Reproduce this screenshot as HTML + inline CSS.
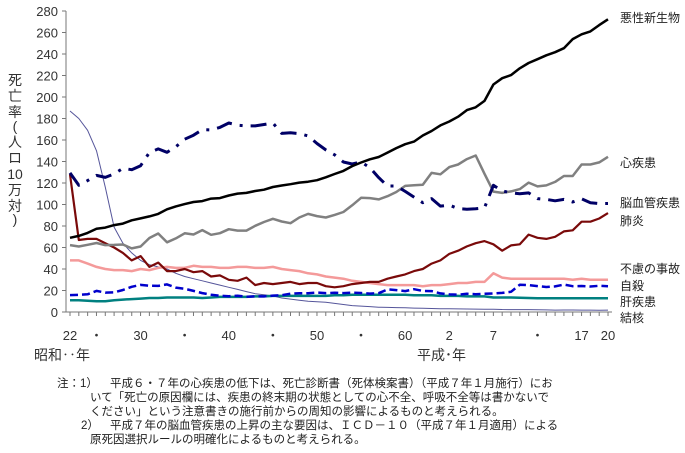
<!DOCTYPE html>
<html><head><meta charset="utf-8">
<style>
body{margin:0;background:#fff;}
svg text{font-family:"Liberation Sans","Noto Sans CJK JP",sans-serif;}
</style></head>
<body>
<svg id="chart" width="685" height="448" viewBox="0 0 685 448" xmlns="http://www.w3.org/2000/svg">
<g id="axes"></g>
<g id="series"></g>
<g id="labels"></g>
<g font-size="14" fill="#333" text-anchor="middle">
<text x="15" y="85">死</text><text x="15" y="101">亡</text><text x="15" y="117">率</text><text x="15" y="131">(</text><text x="15" y="147">人</text><text x="15" y="163">ロ</text><text x="15" y="179">10</text><text x="15" y="195">万</text><text x="15" y="211">対</text><text x="15" y="224">)</text>
</g>
<text x="34" y="360" font-size="14" fill="#333">昭和‥年</text>
<text x="417" y="360" font-size="14" fill="#333">平成･年</text>
<g font-size="11.5" fill="#222">
<text x="57" y="387">注：1）</text>
<text x="110" y="387">平成６・７年の心疾患の低下は、死亡診断書（死体検案書）（平成７年１月施行）にお</text>
<text x="90" y="401">いて「死亡の原因欄には、疾患の終末期の状態としての心不全、呼吸不全等は書かないで</text>
<text x="90" y="415">ください」という注意書きの施行前からの周知の影響によるものと考えられる。</text>
<text x="81" y="429">2）</text>
<text x="110" y="429">平成７年の脳血管疾患の上昇の主な要因は、ＩＣＤ－１０（平成７年１月適用）による</text>
<text x="90" y="443">原死因選択ルールの明確化によるものと考えられる。</text>
</g>
</svg>
<script>
const startYear = 1947;
const cancer = [69.0,70.8,73.6,77.4,78.5,80.8,82.2,85.3,87.1,88.9,91.3,95.5,98.2,100.4,102.3,103.2,105.5,106.0,108.4,110.1,110.8,112.6,113.8,116.3,117.7,118.9,120.4,121.2,122.6,125.3,128.4,131.3,135.7,139.1,142.0,144.2,148.3,152.5,156.1,158.5,164.2,168.4,173.6,177.2,181.7,187.8,190.4,196.4,211.6,217.5,220.4,226.7,231.6,235.2,238.8,241.7,245.4,253.9,258.3,261.0,266.9,272.3];
const heart = [62.2,60.9,62.5,64.2,62.2,62.4,62.8,59.2,60.9,68.8,73.0,64.8,68.5,73.2,72.1,76.2,71.8,73.3,77.0,75.7,75.7,80.2,83.7,86.7,84.2,82.6,87.9,91.3,89.2,87.9,90.3,93.0,99.3,106.2,106.0,104.7,107.7,111.6,117.3,117.9,118.4,129.4,128.1,134.8,137.2,142.2,145.6,128.6,112.0,110.8,112.2,114.3,120.4,116.8,117.8,121.0,126.5,126.5,137.2,137.2,139.2,144.4];
const cerebro = [129.4,117.9,122.2,127.1,125.2,128.5,133.7,132.4,136.1,148.4,151.7,148.6,153.7,160.7,164.5,169.6,169.4,171.7,175.8,173.8,173.1,173.1,174.4,175.8,166.1,166.7,166.0,163.8,156.7,150.8,146.2,139.5,137.7,139.5,134.3,125.0,117.2,117.2,112.2,106.9,101.7,105.5,98.5,99.4,96.2,95.6,96.0,96.9,117.9,112.6,111.0,110.0,110.8,105.5,104.7,103.4,104.7,102.3,105.3,101.7,100.8,100.9];
const pneumonia = [128,67,68,68,64,60,55,48,52,42,46,38,38,40,37,38,33,34,30,29,32,25,27,26,27,28,26,27,27,24,23,24,26,27,28,28,31,33,35,38,40,45,48,54,57,61,64,66,63,57,62,63,72,69,68,70,75,76,84,84,87,92];
const accidents = [48,48,45,42,40,39,39,38,40,39,41,42,41,41,43,42,42,41,41,42,42,41,41,42,40,39,38,36,35,33,32,31,29,28,27,26,25,25,25,25,24,25,25,26,27,27,28,28,36,32,31,31,31,31,31,31,31,30,31,30,30,30];
const suicide = [15.7,16,16.5,19.6,18,18.2,20.5,23.4,25.2,24.5,24.3,25.7,22.7,21.6,19.6,17.6,16.1,15.1,14.7,15.2,14.2,14.5,14.5,15.3,15.6,17.0,17.4,17.5,18.0,17.6,17.9,17.6,18.0,17.7,17.1,17.5,21.0,20.4,19.4,21.2,19.6,19.4,17.3,16.4,16.1,16.9,16.6,16.9,17.2,17.8,18.8,25.4,25.0,24.1,23.3,23.8,25.5,24.0,24.2,23.7,24.4,24.0];
const liver = [11,11,10.5,10,10,11,11.5,12,12.5,13,13,13.5,13.5,13.5,13.5,13,13.5,14,14,14,14,14.5,14.5,15,15,15,15,15,15,15,15.5,15.5,16,16,16,16,16,16,16,15.5,15.5,15.5,15,15,15,14.5,14.5,14.5,13.5,13.5,13.5,13.2,13,12.8,12.8,12.8,12.8,12.8,12.8,12.8,12.8,12.8];
const tb = [187,180,169,150,116,79,64,55,48,44,42,40,36,33,31,29,27,25,23,21,19,17,16,15,13,12,11,10,9.5,9,8,7,6,5.5,5,4.5,4.3,4.1,3.9,3.6,3.4,3.3,3.1,3,2.9,2.8,2.7,2.6,2.6,2.3,2.2,2.2,2.2,2.1,2.0,1.8,1.9,1.9,1.8,1.8,1.7,1.8];
const yTicks = [0,20,40,60,80,100,120,140,160,180,200,220,240,260,280];
const xTickYears = [1947,1950,1955,1960,1965,1970,1975,1980,1985,1990,1995,2000,2005,2008];
const xTickLabels = ["22","・","30","・","40","・","50","・","60","2","7","・","17","20"];
const seriesNames = ["悪性新生物","心疾患","脳血管疾患","肺炎","不慮の事故","自殺","肝疾患","結核"];
const labelYs = [18,163,203,221,269,286,302,318];

const NS="http://www.w3.org/2000/svg";
const x0=70, dx=8.82, y0=312, ky=301/280;
function xs(yr){return x0+(yr-startYear)*dx;}
function ys(v){return y0-v*ky;}
function mk(tag,attrs,parent){const e=document.createElementNS(NS,tag);for(const k in attrs)e.setAttribute(k,attrs[k]);parent.appendChild(e);return e;}

const axes=document.getElementById('axes');
let a=mk('line',{x1:66,y1:ys(0),x2:66,y2:ys(280),stroke:'#777','stroke-width':1},axes);


a=mk('line',{x1:66,y1:ys(0),x2:612,y2:ys(0),stroke:'#777','stroke-width':1},axes);


yTicks.forEach(v=>{
  const t=mk('line',{x1:62,x2:66,y1:ys(v),y2:ys(v),stroke:'#777'},axes);
  
  
  const l=mk('text',{x:58,y:ys(v)+5,'text-anchor':'end','font-size':13,fill:'#333'},axes);
  
  
  l.textContent=v;
});
for(let i=0;i<cancer.length;i++){
  const t=mk('line',{x1:xs(startYear+i),x2:xs(startYear+i),y1:y0,y2:y0+4,stroke:'#777'},axes);
  
  
}
xTickYears.forEach((yr,i)=>{
  const l=mk('text',{x:xs(yr),y:340,'text-anchor':'middle','font-size':13,fill:'#333'},axes);
  
  
  l.textContent=xTickLabels[i];
});

const sg=document.getElementById('series');
function drawLine(data,name,style){
  const pts=data.map((v,i)=>xs(startYear+i).toFixed(1)+','+ys(v).toFixed(1)).join(' ');
  const p=mk('polyline',Object.assign({points:pts,fill:'none','stroke-linejoin':'round'},style),sg);
  
  
}
drawLine(tb,'line-tuberculosis',{stroke:'#55559a','stroke-width':1});
drawLine(liver,'line-liver-disease',{stroke:'#008080','stroke-width':2.5});
drawLine(suicide,'line-suicide',{stroke:'#0000cc','stroke-width':2.5,'stroke-dasharray':'8 4'});
drawLine(accidents,'line-accidents',{stroke:'#f49a9a','stroke-width':2.5});
drawLine(pneumonia,'line-pneumonia',{stroke:'#7a0a0a','stroke-width':2.2});
drawLine(heart,'line-heart-disease',{stroke:'#808080','stroke-width':2.5});
drawLine(cerebro,'line-cerebrovascular',{stroke:'#000066','stroke-width':3,'stroke-dasharray':'16 8 3 8'});
drawLine(cancer,'line-malignant-neoplasm',{stroke:'#000','stroke-width':2.5});

const lg=document.getElementById('labels');
seriesNames.forEach((n,i)=>{
  const t=mk('text',{x:620,y:labelYs[i]+4,'font-size':12,fill:'#222'},lg);
  
  
  t.textContent=n;
});
</script>
</body></html>
